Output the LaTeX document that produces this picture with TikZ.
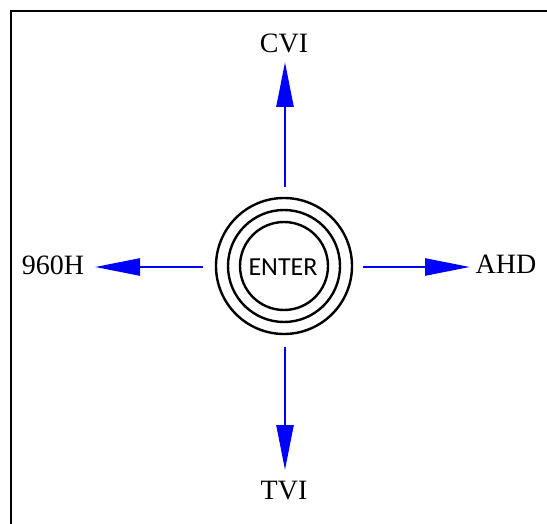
\documentclass[tikz,border=0pt]{standalone}
\usepackage{fontspec}
\setmainfont{Liberation Serif}
\newfontfamily\entfont{Carlito}
\usetikzlibrary{arrows.meta}
\begin{document}
\begin{tikzpicture}[x=1pt,y=-1pt,
  lbl/.style={font=\fontsize{28}{32}\selectfont, inner sep=0pt},
  ring/.style={draw=black, line width=2.4pt, circle, inner sep=0pt},
  blue arrow/.style={draw=blue, line width=2.5pt, -{Triangle[length=45pt,width=17pt]}}]
\useasboundingbox (0,0) rectangle (547,524);
\fill[white] (0,0) rectangle (547,524);
\draw[line width=1.5pt] (11,524) -- (11,11) -- (547,11);
\node[ring, minimum size=136pt] (outer) at (284,266) {};
\node[ring, minimum size=112pt] (middle) at (284,266) {};
\node[ring, minimum size=88pt] (inner) at (284,266) {};
\node[font=\entfont\fontsize{26}{30}\selectfont, inner sep=0pt, anchor=base] (enter) at (283,275.5) {ENTER};
\node[lbl, anchor=base] (cvi) at (284,53) {CVI};
\node[lbl, anchor=base] (tvi) at (284,499) {TVI};
\node[lbl, anchor=base] (h960) at (53,275) {960H};
\node[lbl, anchor=base] (ahd) at (506,274) {AHD};
\coordinate (su) at (285,187);
\coordinate (tu) at (285,62);
\coordinate (sd) at (285,347);
\coordinate (td) at (285,470);
\coordinate (sl) at (203,267);
\coordinate (tl) at (95,267);
\coordinate (sr) at (363,267);
\coordinate (tr) at (470,267);
\draw[blue arrow] (su) -- (tu);
\draw[blue arrow] (sd) -- (td);
\draw[blue arrow] (sl) -- (tl);
\draw[blue arrow] (sr) -- (tr);
\end{tikzpicture}
\end{document}
